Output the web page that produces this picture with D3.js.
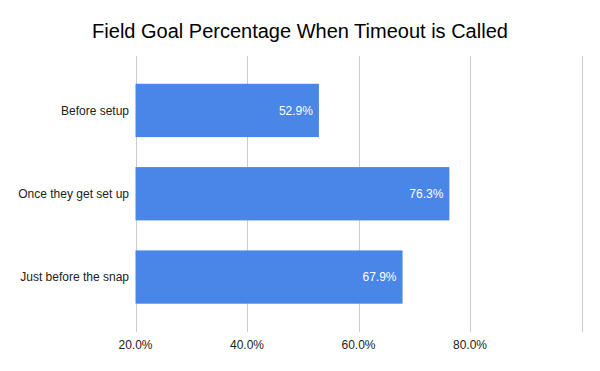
<!DOCTYPE html>
<html>
<head>
<meta charset="utf-8">
<script src="https://cdn.jsdelivr.net/npm/d3@7"></script>
<style>
  body { margin: 0; background: #fff; }
  svg { display: block; font-family: "Liberation Sans", Arial, sans-serif; }
</style>
</head>
<body>
<div id="chart"></div>
<script>
// data
var categories = ["Before setup", "Once they get set up", "Just before the snap"];
var values = [52.9, 76.3, 67.9];
var tickValues = [20, 40, 60, 80, 100];
var tickLabels = ["20.0%", "40.0%", "60.0%", "80.0%", ""];

var width = 600, height = 371;

var svg = d3.select("#chart")
  .append("svg")
    .attr("width", width)
    .attr("height", height);

svg.append("rect").attr("width", width).attr("height", height).attr("fill", "#fff");

// title
svg.append("text")
  .attr("x", 300)
  .attr("y", 38)
  .attr("text-anchor", "middle")
  .attr("font-size", "20px")
  .attr("fill", "#000")
  .text("Field Goal Percentage When Timeout is Called");

var x = d3.scaleLinear()
  .domain([20, 100])
  .range([135.5, 581.5]);

var y = d3.scaleBand()
  .domain(categories)
  .range([68.8, 318.7])
  .paddingInner(0.36)
  .paddingOuter(0.18);

var gridTop = 56, gridBottom = 332;

// gridlines
svg.append("g")
  .selectAll("line")
  .data(tickValues)
  .enter()
  .append("line")
    .attr("x1", function(d) { return Math.round(x(d)) + 0.5; })
    .attr("x2", function(d) { return Math.round(x(d)) + 0.5; })
    .attr("y1", gridTop)
    .attr("y2", gridBottom)
    .attr("stroke", "#cccccc")
    .attr("stroke-width", 1);

// x tick labels
svg.append("g")
  .selectAll("text")
  .data(tickValues)
  .enter()
  .append("text")
    .attr("x", function(d) { return x(d); })
    .attr("y", 349)
    .attr("text-anchor", "middle")
    .attr("font-size", "12px")
    .attr("fill", "#222")
    .text(function(d, i) { return tickLabels[i]; });

// bars
var rows = categories.map(function(c, i) { return {cat: c, val: values[i]}; });

svg.append("g")
  .selectAll("rect")
  .data(rows)
  .enter()
  .append("rect")
    .attr("x", x(20))
    .attr("y", function(d) { return y(d.cat); })
    .attr("width", function(d) { return x(d.val) - x(20); })
    .attr("height", y.bandwidth())
    .attr("fill", "#4a86e8");

// value labels
svg.append("g")
  .selectAll("text")
  .data(rows)
  .enter()
  .append("text")
    .attr("x", function(d) { return x(d.val) - 6; })
    .attr("y", function(d) { return y(d.cat) + y.bandwidth() / 2; })
    .attr("dy", "0.35em")
    .attr("text-anchor", "end")
    .attr("font-size", "12px")
    .attr("fill", "#fff")
    .text(function(d) { return d.val.toFixed(1) + "%"; });

// category labels
svg.append("g")
  .selectAll("text")
  .data(categories)
  .enter()
  .append("text")
    .attr("x", 129)
    .attr("y", function(d) { return y(d) + y.bandwidth() / 2; })
    .attr("dy", "0.35em")
    .attr("text-anchor", "end")
    .attr("font-size", "12px")
    .attr("fill", "#222")
    .text(function(d) { return d; });
</script>
</body>
</html>
